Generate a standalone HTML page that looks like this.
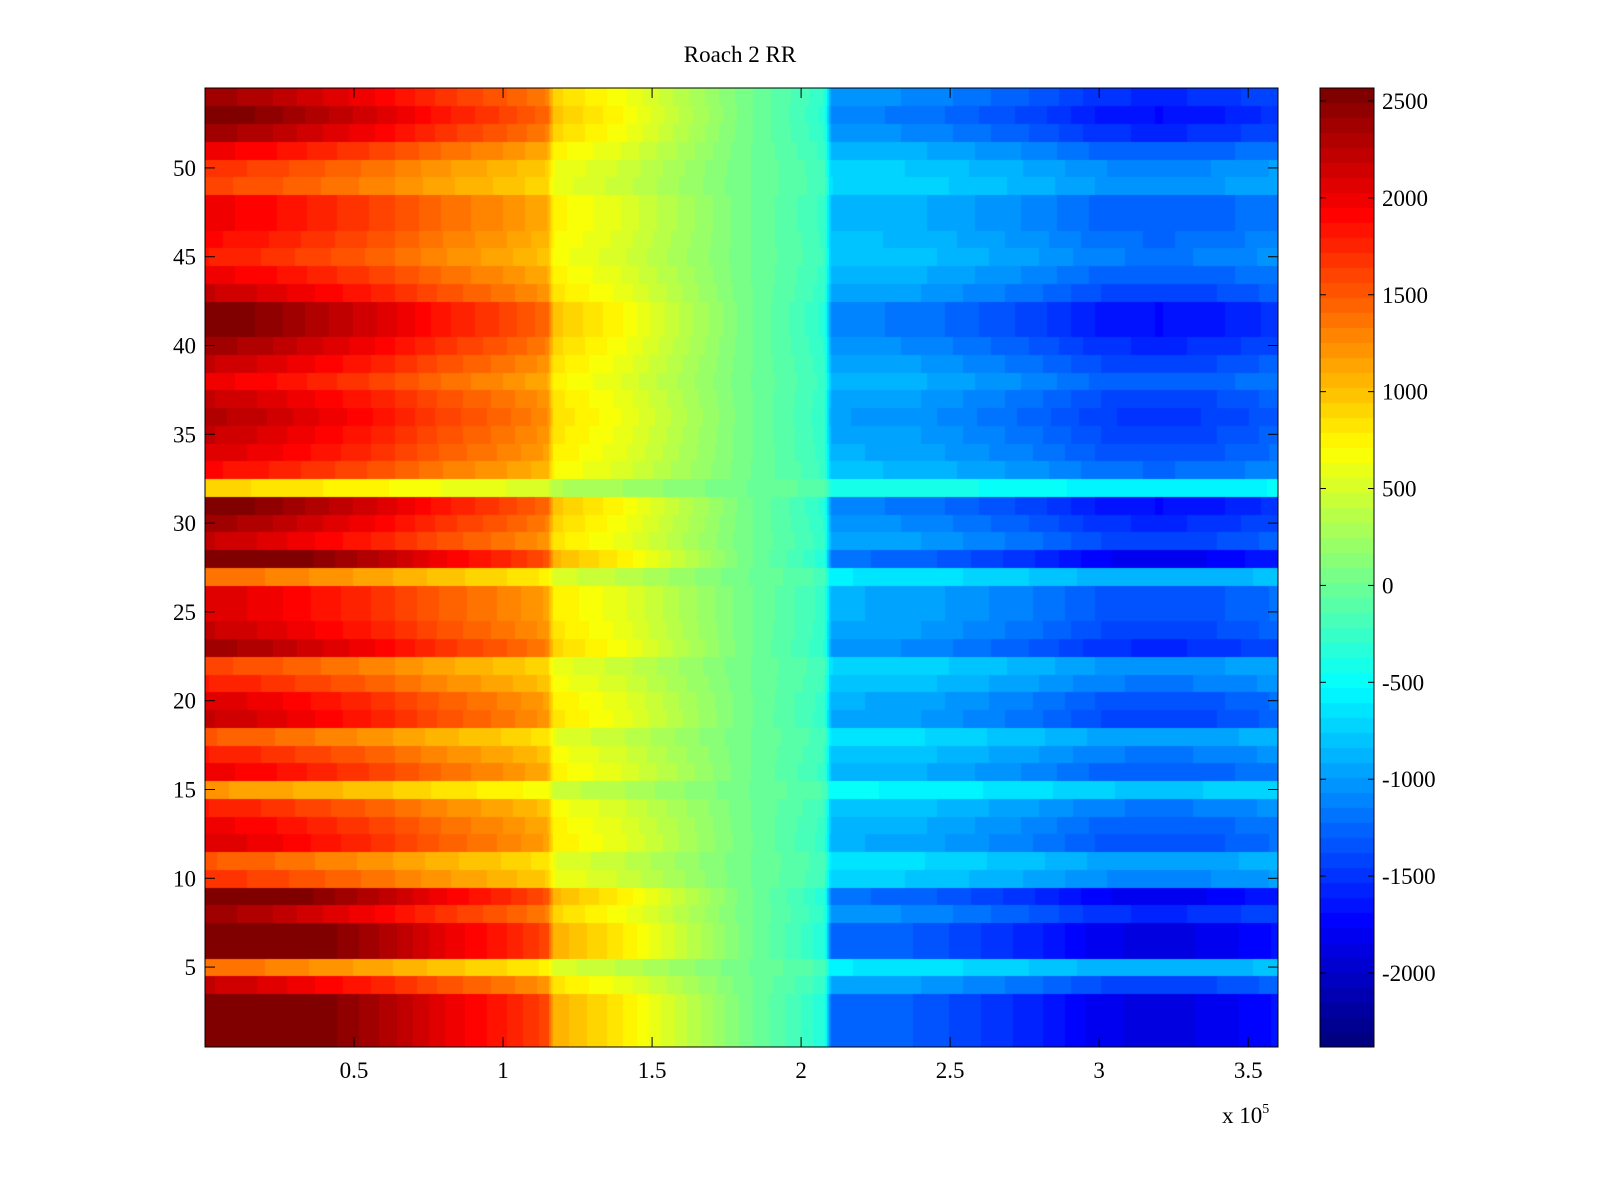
<!DOCTYPE html>
<html><head><meta charset="utf-8"><style>
body{margin:0;background:#fff;width:1600px;height:1200px;overflow:hidden;font-family:"Liberation Serif",serif;}
.t{position:absolute;font-size:23px;color:#000;white-space:nowrap;}
</style></head><body>
<div class="t" style="left:640px;top:42px;width:200px;text-align:center;">Roach 2 RR</div>
<canvas id="hm" width="1073" height="959" style="position:absolute;left:205px;top:88px;"></canvas>
<canvas id="cb" width="54" height="959" style="position:absolute;left:1320px;top:88px;"></canvas>
<svg id="ov" width="1600" height="1200" style="position:absolute;left:0;top:0;"></svg>
<div class="t" style="left:1222px;top:1102px;">x 10<sup style="font-size:14px;vertical-align:10px">5</sup></div>
<script>
// Data
const xKnots = [0, 0.2, 0.4, 0.6, 0.8, 1.0, 1.15, 1.17, 1.4, 1.6, 1.8, 2.0, 2.08, 2.1, 2.4, 2.6, 2.8, 3.0, 3.2, 3.4, 3.6];
const colValues = [2000, 1900, 1750, 1600, 1400, 1250, 1100, 750, 550, 300, 50, -150, -250, -850, -900, -1000, -1100, -1250, -1300, -1250, -1150];
// row scale, rows 1..54 (bottom to top)
const rowScale = [1.45,1.45,1.45,1.1,0.7,1.45,1.45,1.2,1.4,0.85,0.75,1.05,1.0,0.9,0.6,1.0,0.9,0.75,1.1,1.05,0.9,0.8,1.2,1.1,1.05,1.05,0.7,1.4,1.1,1.2,1.3,0.45,0.95,1.05,1.1,1.15,1.1,1.0,1.1,1.2,1.3,1.3,1.1,1.0,0.9,0.95,1.0,1.0,0.8,0.85,1.0,1.2,1.3,1.2];
const xTicks = [0.5,1,1.5,2,2.5,3,3.5];
const yTicks = [5,10,15,20,25,30,35,40,45,50];
const cTicks = [2500,2000,1500,1000,500,0,-500,-1000,-1500,-2000];

const PX0=205,PX1=1278,PY0=88,PY1=1047;
const XMIN=0,XMAX=3.6,YMIN=0.5,YMAX=54.5,CMIN=-2382,CMAX=2567;
const xs=v=>PX0+(v-XMIN)/(XMAX-XMIN)*(PX1-PX0);
const ys=v=>PY1-(v-YMIN)/(YMAX-YMIN)*(PY1-PY0);
const cs=v=>PY1-(v-CMIN)/(CMAX-CMIN)*(PY1-PY0);

function jet(t){t=Math.max(0,Math.min(1,t));t=Math.min(63,Math.floor(t*64))/63;
 const f=x=>Math.max(0,Math.min(1,x));
 return [f(1.5-Math.abs(4*t-3)),f(1.5-Math.abs(4*t-2)),f(1.5-Math.abs(4*t-1))].map(v=>Math.round(v*255));}
function prof(x){for(let i=0;i<xKnots.length-1;i++){if(x<=xKnots[i+1]){const a=(x-xKnots[i])/(xKnots[i+1]-xKnots[i]);return colValues[i]+a*(colValues[i+1]-colValues[i]);}}return colValues[colValues.length-1];}

const hm=document.getElementById('hm').getContext('2d');
const CW=2;
for(let r=0;r<rowScale.length;r++){
 const yt=ys(r+1.5)-PY0, yb=ys(r+0.5)-PY0;
 for(let px=0;px<1073;px+=CW){
  const xv=XMIN+(px+CW/2)/1073*(XMAX-XMIN);
  const v=prof(xv)*rowScale[r];
  const c=jet((v-CMIN)/(CMAX-CMIN));
  hm.fillStyle=`rgb(${c[0]},${c[1]},${c[2]})`;
  hm.fillRect(px,Math.floor(yt),CW,Math.ceil(yb)-Math.floor(yt));
 }
}
const cb=document.getElementById('cb').getContext('2d');
for(let i=0;i<64;i++){const c=jet((i+0.5)/64);cb.fillStyle=`rgb(${c[0]},${c[1]},${c[2]})`;
 const y0=959-(i+1)/64*959,y1=959-i/64*959;cb.fillRect(0,Math.floor(y0),54,Math.ceil(y1)-Math.floor(y0));}

const ov=document.getElementById('ov');const NS='http://www.w3.org/2000/svg';
function el(t,a,txt){const e=document.createElementNS(NS,t);for(const k in a)e.setAttribute(k,a[k]);if(txt!==undefined)e.textContent=txt;ov.appendChild(e);return e;}
let e;
e=el('rect',{x:PX0,y:PY0,width:PX1-PX0,height:PY1-PY0,fill:'none',stroke:'#000','stroke-width':1});


e=el('rect',{x:1320,y:PY0,width:54,height:PY1-PY0,fill:'none',stroke:'#000','stroke-width':1});


xTicks.forEach(v=>{const x=xs(v);
 el('line',{x1:x,x2:x,y1:PY1,y2:PY1-10,stroke:'#000'});el('line',{x1:x,x2:x,y1:PY0,y2:PY0+10,stroke:'#000'});
 e=el('text',{x:x,y:1078,'font-size':23,'text-anchor':'middle','font-family':'Liberation Serif, serif'},String(v));
 
 });
yTicks.forEach(v=>{const y=ys(v);
 el('line',{x1:PX0,x2:PX0+10,y1:y,y2:y,stroke:'#000'});el('line',{x1:PX1,x2:PX1-10,y1:y,y2:y,stroke:'#000'});
 e=el('text',{x:196,y:y+8,'font-size':23,'text-anchor':'end','font-family':'Liberation Serif, serif'},String(v));
 
 });
cTicks.forEach(v=>{const y=cs(v);
 el('line',{x1:1320,x2:1326,y1:y,y2:y,stroke:'#000'});el('line',{x1:1374,x2:1368,y1:y,y2:y,stroke:'#000'});
 e=el('text',{x:1382,y:y+8,'font-size':23,'font-family':'Liberation Serif, serif'},String(v));
 
 });
</script>
</body></html>
